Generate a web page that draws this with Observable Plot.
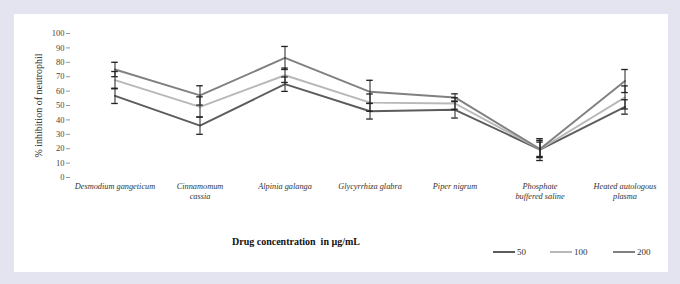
<!DOCTYPE html>
<html><head><meta charset="utf-8">
<script src="https://cdn.jsdelivr.net/npm/d3@7"></script>
<script src="https://cdn.jsdelivr.net/npm/@observablehq/plot@0.6"></script>
<style>
html,body{margin:0;padding:0;background:#e4e4f1;width:680px;height:284px;overflow:hidden;font-family:"Liberation Serif","Times New Roman",serif;}
#panel{position:absolute;left:14px;top:14px;width:654px;height:258px;background:#fff;}
#chart{position:absolute;left:0;top:0;}
#xtitle{position:absolute;left:218px;top:222px;font-weight:bold;font-size:10px;color:#111;white-space:nowrap;}
.leg{position:absolute;top:233px;font-size:9px;color:#333;white-space:nowrap;display:flex;align-items:center;}
.leg span.ln{display:inline-block;width:22px;height:1.6px;margin-right:2px;}
</style>
</head><body>
<div id="panel">
  <div id="chart"></div>
  <div id="xtitle">Drug concentration &nbsp;in µg/mL</div>
  <div id="legend"></div>
</div>
<script>
const categories = ["Desmodium gangeticum", "Cinnamomum\ncassia", "Alpinia galanga", "Glycyrrhiza glabra", "Piper nigrum", "Phosphate\nbuffered saline", "Heated autologous\nplasma"];
const seriesNames = ["50", "100", "200"];
const values50  = [56.7, 36, 64.8, 46, 47, 19.4, 49];
const values100 = [67.6, 49, 71, 52, 51.4, 19.6, 55.6];
const values200 = [75, 57, 83, 59.5, 55.6, 19.8, 67];
const err50  = [5.3, 6, 5, 5.4, 5.7, 7.6, 5];
const err100 = [6, 7, 5, 6, 4, 5, 8];
const err200 = [5, 6.7, 8, 8, 2.5, 6, 8];
const yTicks = [0, 10, 20, 30, 40, 50, 60, 70, 80, 90, 100];
const colors = ["#5c5c5c", "#b8b8b8", "#808080"];

const vals = [values50, values100, values200];
const errs = [err50, err100, err200];
const data = [];
seriesNames.forEach((s, i) => categories.forEach((c, j) => data.push({series: s, cat: c, value: vals[i][j], err: errs[i][j]})));

const W = 654, ML = 56;
const bw = (W - ML) / categories.length;
const plot = Plot.plot({
  width: W, height: 200,
  marginLeft: ML, marginRight: 0, marginTop: 19, marginBottom: 37,
  style: {background: "transparent", fontFamily: "'Liberation Serif', serif"},
  x: {type: "band", domain: categories, padding: 0},
  y: {domain: [0, 100]},
  color: {domain: seriesNames, range: colors},
  marks: [
    Plot.axisY({ticks: yTicks, tickSize: 4, tickPadding: 2, fontSize: 8.5, color: "#444", stroke: "#999", label: null}),
    Plot.axisY({ticks: [], tickSize: 0, label: "% inhibition of neutrophil", labelAnchor: "center", labelArrow: "none", labelOffset: 36, fontSize: 10, color: "#222"}),
    Plot.axisX({tickSize: 0, tickPadding: 5, fontSize: 8.3, fontStyle: "italic", color: "#333", label: null, lineHeight: 1.15}),
    Plot.line(data, {x: "cat", y: "value", z: "series", stroke: "series", strokeWidth: 1.9}),
    Plot.ruleX(data, {x: "cat", y1: d => d.value - d.err, y2: d => d.value + d.err, stroke: "#222", strokeWidth: 1}),
    Plot.tickY(data, {x: "cat", y: d => d.value - d.err, stroke: "#222", strokeWidth: 1.3, insetLeft: bw/2 - 3.5, insetRight: bw/2 - 3.5}),
    Plot.tickY(data, {x: "cat", y: d => d.value + d.err, stroke: "#222", strokeWidth: 1.3, insetLeft: bw/2 - 3.5, insetRight: bw/2 - 3.5})
  ]
});
document.getElementById("chart").appendChild(plot);

const legX = [479, 536, 599];
const leg = document.getElementById("legend");
seriesNames.forEach((s, i) => {
  const d = document.createElement("div");
  d.className = "leg";
  d.style.left = legX[i] + "px";
  d.innerHTML = `<span class="ln" style="background:${colors[i]}"></span>${s}`;
  leg.appendChild(d);
});
</script>
</body></html>
